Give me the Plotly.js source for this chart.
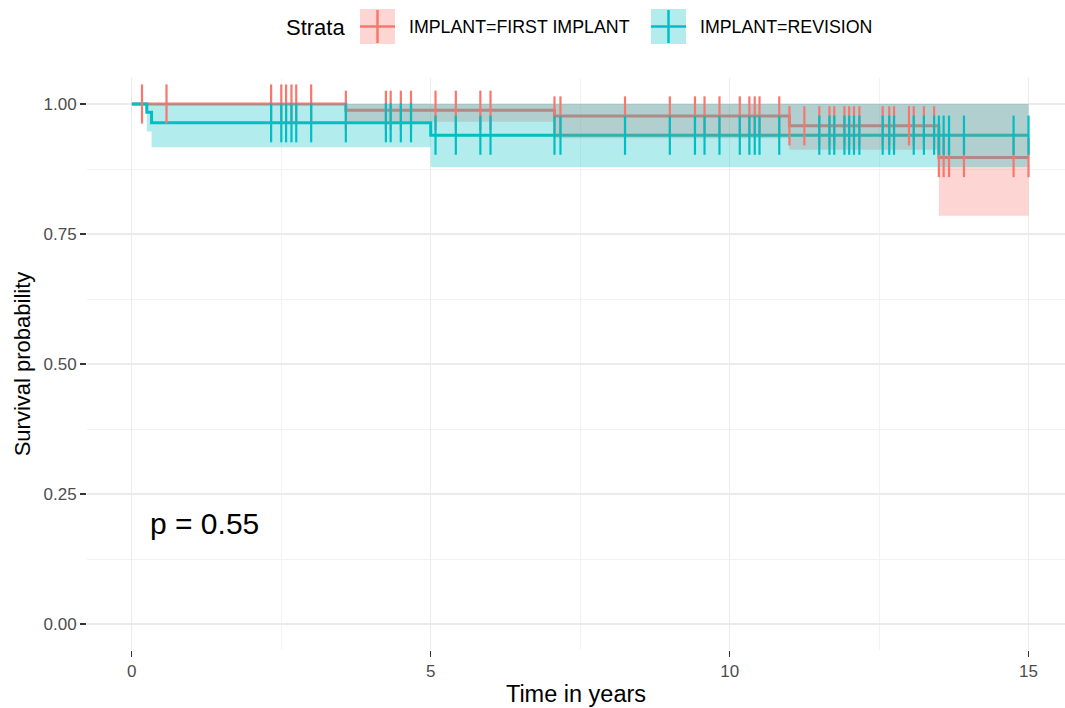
<!DOCTYPE html>
<html>
<head>
<meta charset="utf-8">
<script src="https://cdn.plot.ly/plotly-3.0.1.min.js"></script>
<style>
html,body{margin:0;padding:0;background:#fff;}
#chart{width:1065px;height:708px;}
</style>
</head>
<body>
<div id="chart"></div>
<script>
// ---------------- data ----------------
const strata = ["IMPLANT=FIRST IMPLANT", "IMPLANT=REVISION"];
const legendTitle = "Strata";
const pText = "p = 0.55";

// FIRST IMPLANT: Kaplan-Meier steps
const firstTime  = [0, 3.58, 7.07, 11.0, 13.5, 15.0];
const firstSurv  = [1.0, 0.988, 0.977, 0.958, 0.897, 0.897];
const firstLower = [1.0, 0.966, 0.934, 0.912, 0.785, 0.785];
const firstUpper = [1.0, 1.0, 1.0, 1.0, 1.0, 1.0];
const firstCensor = [0.17, 0.58, 2.33, 2.5, 2.58, 2.67, 2.75, 3.0, 3.58, 4.25, 4.33, 4.5, 4.67,
  5.08, 5.42, 5.83, 6.0, 7.07, 7.17, 8.25, 9.0, 9.42, 9.58, 9.83, 10.17, 10.33, 10.42, 10.5,
  10.83, 11.0, 11.25, 11.5, 11.67, 11.75, 11.92, 12.0, 12.08, 12.17, 12.56, 12.67, 12.75, 13.0,
  13.08, 13.25, 13.42, 13.5, 13.58, 13.67, 13.92, 14.75, 15.0];

// REVISION: Kaplan-Meier steps
const revTime  = [0, 0.25, 0.33, 5.0, 15.0];
const revSurv  = [1.0, 0.984, 0.964, 0.940, 0.940];
const revLower = [1.0, 0.947, 0.917, 0.879, 0.879];
const revUpper = [1.0, 1.0, 1.0, 1.0, 1.0];
const revCensor = [2.33, 2.5, 2.58, 2.67, 2.75, 3.0, 3.58, 4.25, 4.33, 4.5, 4.67,
  5.08, 5.42, 5.83, 6.0, 7.07, 7.17, 8.25, 9.0, 9.42, 9.58, 9.83, 10.17, 10.33, 10.42, 10.5,
  10.83, 11.5, 11.67, 11.75, 11.92, 12.0, 12.08, 12.17, 12.56, 12.67, 12.75,
  13.08, 13.25, 13.42, 13.5, 13.58, 13.67, 13.92, 14.75, 15.0];

const xTickVals = [0, 5, 10, 15];
const xTickText = ["0", "5", "10", "15"];
const yTickVals = [0, 0.25, 0.5, 0.75, 1.0];
const yTickText = ["0.00", "0.25", "0.50", "0.75", "1.00"];

// ---------------- styling ----------------
const RED = "#F8766D", CYAN = "#00BFC4";
const RED_FILL = "rgba(248,118,109,0.3)", CYAN_FILL = "rgba(0,191,196,0.3)";
const FONT = "Liberation Sans, Arial, Helvetica, sans-serif";

function survAt(times, surv, t) {
  let v = surv[0];
  for (let i = 0; i < times.length; i++) { if (times[i] <= t + 1e-9) v = surv[i]; }
  return v;
}

function stepLine(x, y, color) {
  return {x: x, y: y, type: "scatter", mode: "lines", showlegend: false, hoverinfo: "skip",
    line: {color: color, width: 3, shape: "hv"}};
}
function ribbon(x, lo, hi, fill) {
  return [
    {x: x, y: hi, type: "scatter", mode: "lines", showlegend: false, hoverinfo: "skip",
     line: {width: 0, shape: "hv", color: fill}},
    {x: x, y: lo, type: "scatter", mode: "lines", showlegend: false, hoverinfo: "skip",
     line: {width: 0, shape: "hv", color: fill}, fill: "tonexty", fillcolor: fill}
  ];
}
function censor(times, stepT, stepS, color) {
  return {x: times, y: times.map(t => survAt(stepT, stepS, t)), type: "scatter", mode: "markers",
    showlegend: false, hoverinfo: "skip",
    marker: {symbol: "line-ns-open", size: 28, color: color, line: {width: 2.2, color: color}}};
}

const traces = [
  stepLine(firstTime, firstSurv, RED),
  stepLine(revTime, revSurv, CYAN),
  ...ribbon(firstTime, firstLower, firstUpper, RED_FILL),
  ...ribbon(revTime, revLower, revUpper, CYAN_FILL),
  censor(firstCensor, firstTime, firstSurv, RED),
  censor(revCensor, revTime, revSurv, CYAN)
];

// panel geometry in pixels
const L = 87, T = 78, W = 1065 - 87, H = 572;
const px2x = p => (p - L) / W;
const py2y = p => (T + H - p) / H;

// manual legend (ggplot style keys)
function key(x0, color, fill) {
  const x1 = x0 + 35, y0 = 9, y1 = 44, cx = (x0 + x1) / 2, cy = (y0 + y1) / 2;
  return [
    {type: "rect", xref: "paper", yref: "paper", x0: px2x(x0), x1: px2x(x1), y0: py2y(y1), y1: py2y(y0),
     fillcolor: fill, line: {width: 0}},
    {type: "line", xref: "paper", yref: "paper", x0: px2x(cx), x1: px2x(cx), y0: py2y(y1 - 1), y1: py2y(y0 + 1),
     line: {color: color, width: 2.5}},
    {type: "line", xref: "paper", yref: "paper", x0: px2x(x0), x1: px2x(x1), y0: py2y(cy), y1: py2y(cy),
     line: {color: color, width: 2.5}}
  ];
}

const layout = {
  width: 1065, height: 708,
  margin: {l: L, r: 0, t: T, b: 708 - T - H, pad: 0},
  paper_bgcolor: "#fff", plot_bgcolor: "#fff",
  font: {family: FONT, color: "#000"},
  showlegend: false,
  hovermode: false,
  xaxis: {
    range: [-0.75, 15.61], tickvals: xTickVals, ticktext: xTickText,
    showgrid: true, gridcolor: "#EBEBEB", gridwidth: 1.3, zeroline: false, showline: false,
    ticks: "outside", ticklen: 6, tickwidth: 1.2, tickcolor: "#333333",
    tickfont: {family: FONT, size: 17, color: "#4D4D4D"},
    minor: {dtick: 2.5, tick0: 0, showgrid: true, gridcolor: "#F2F2F2", gridwidth: 1, ticks: ""},
    title: {text: "Time in years", font: {family: FONT, size: 23.5, color: "#000"}, standoff: 5}
  },
  yaxis: {
    range: [-0.05, 1.05], tickvals: yTickVals, ticktext: yTickText,
    showgrid: true, gridcolor: "#EBEBEB", gridwidth: 1.3, zeroline: false, showline: false,
    ticks: "outside", ticklen: 6, tickwidth: 1.2, tickcolor: "#333333",
    tickfont: {family: FONT, size: 17, color: "#4D4D4D"},
    minor: {dtick: 0.125, tick0: 0, showgrid: true, gridcolor: "#F2F2F2", gridwidth: 1, ticks: ""},
    title: {text: "Survival probability", font: {family: FONT, size: 22, color: "#000"}, standoff: 6}
  },
  shapes: [...key(360, RED, RED_FILL), ...key(651, CYAN, CYAN_FILL)],
  annotations: [
    {xref: "paper", yref: "paper", x: px2x(284), y: py2y(27), xanchor: "left", yanchor: "middle",
     text: legendTitle, showarrow: false, font: {family: FONT, size: 22, color: "#000"}},
    {xref: "paper", yref: "paper", x: px2x(407), y: py2y(27), xanchor: "left", yanchor: "middle",
     text: strata[0], showarrow: false, font: {family: FONT, size: 17.8, color: "#000"}},
    {xref: "paper", yref: "paper", x: px2x(698), y: py2y(27), xanchor: "left", yanchor: "middle",
     text: strata[1], showarrow: false, font: {family: FONT, size: 17.8, color: "#000"}},
    {xref: "paper", yref: "paper", x: px2x(148), y: py2y(523), xanchor: "left", yanchor: "middle",
     text: pText, showarrow: false, font: {family: FONT, size: 30, color: "#000"}}
  ]
};

Plotly.newPlot("chart", traces, layout, {displayModeBar: false, staticPlot: true});
</script>
</body>
</html>
